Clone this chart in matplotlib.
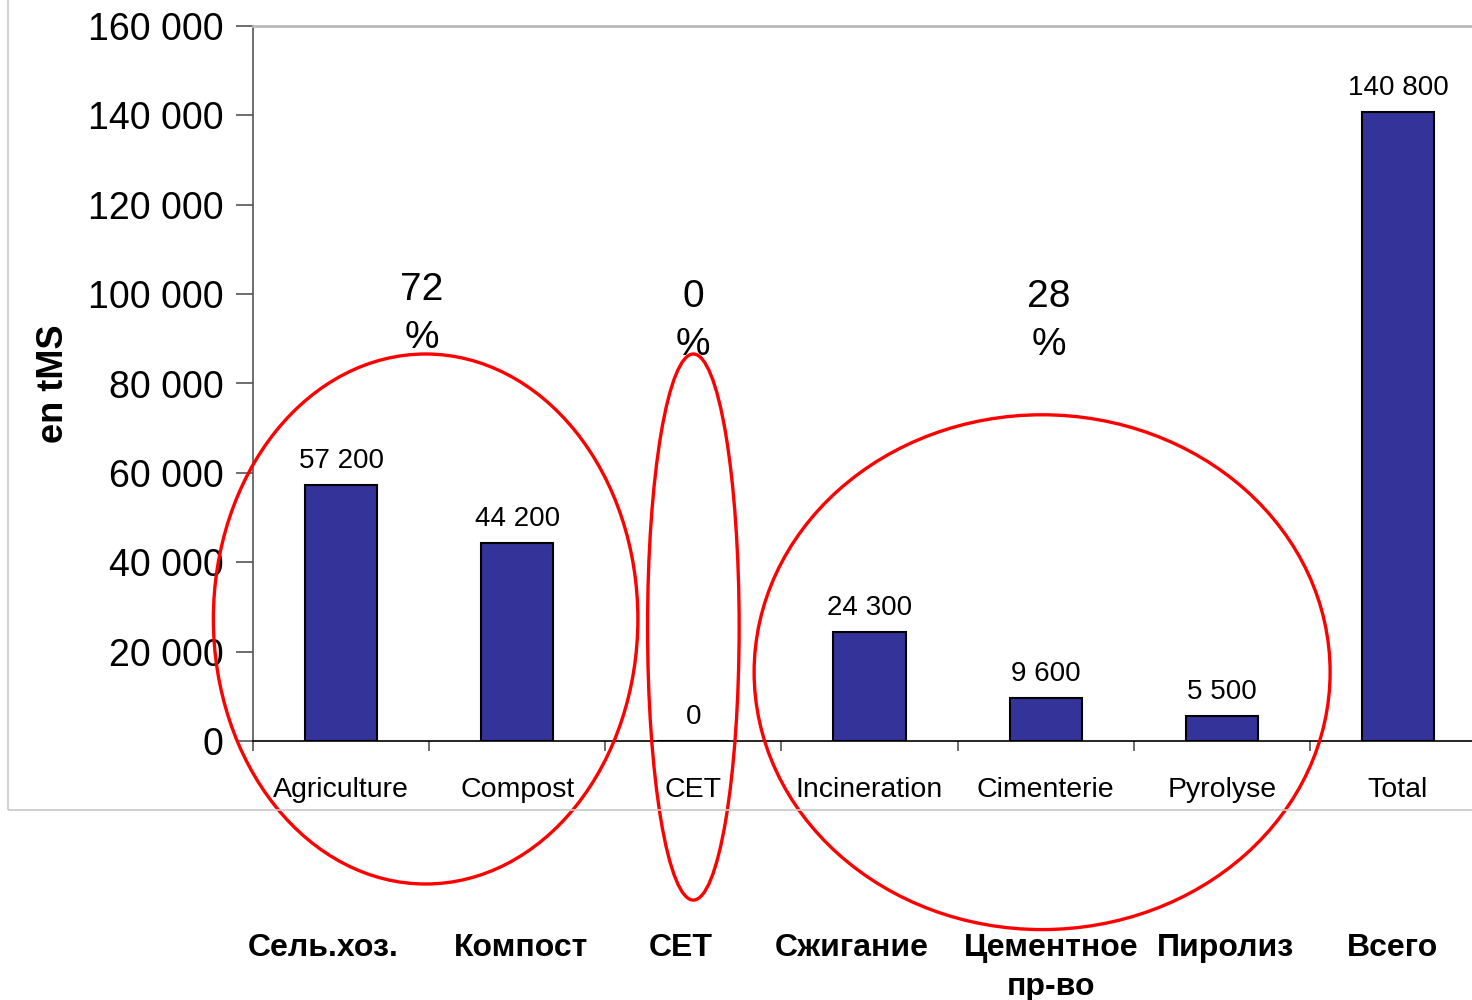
import matplotlib.pyplot as plt
import matplotlib.transforms as mtransforms
from matplotlib.patches import Ellipse, Rectangle
import numpy as np

plt.rcParams['font.family'] = ['Liberation Sans', 'DejaVu Sans']

categories = ['Agriculture', 'Compost', 'CET', 'Incineration',
              'Cimenterie', 'Pyrolyse', 'Total']
labels_ru = ['Сель.хоз.', 'Компост', 'СЕТ', 'Сжигание',
             'Цементное\nпр-во', 'Пиролиз', 'Всего']
tonnes = [57200, 44200, 0, 24300, 9600, 5500, 140800]
shares = ['72\n%', '0\n%', '28\n%']

# small horizontal nudges for the russian captions, in category units
ru_shift = [-0.10, 0.02, -0.07, -0.10, 0.03, 0.02, -0.03]

def fmt(v):
    return f'{v:,}'.replace(',', ' ')

fig = plt.figure(figsize=(14.72, 10), dpi=100)
ax = fig.add_axes([253/1472, 0.259, 1233/1472, 0.715])

# light frame round the chart area
fig.patches.append(Rectangle((8/1472, 0.19), 1.5, 1.0, transform=fig.transFigure,
                             fill=False, ec='#c8c8c8', lw=1.2))

x = np.arange(len(categories))
ax.bar(x, tonnes, width=0.41, color='#333399', edgecolor='black', lw=1.5, zorder=2)
for xi, v in zip(x, tonnes):
    ax.text(xi, v + 2500, fmt(v), ha='center', va='bottom', fontsize=20)

ax.set_xlim(-0.5, 6.5)
ax.set_ylim(0, 160000)
ax.set_yticks(np.arange(0, 160001, 20000))
ax.set_yticklabels([fmt(v) for v in range(0, 160001, 20000)], fontsize=27)
ax.tick_params(axis='y', length=12, width=1.2, color='#555555', pad=9)

ax.set_xticks(x)
ax.set_xticklabels(categories, fontsize=20.5)
ax.tick_params(axis='x', which='major', length=0, pad=26)
ax.set_xticks(np.arange(-0.5, 6.6, 1.0), minor=True)
ax.tick_params(axis='x', which='minor', length=7, width=1.2, color='#555555')

ax.spines['left'].set_color('#555555')
ax.spines['left'].set_linewidth(1.2)
ax.spines['bottom'].set_color('black')
ax.spines['bottom'].set_linewidth(1.2)
ax.spines['top'].set_color('#b8b8b8')
ax.spines['top'].set_linewidth(2)
ax.spines['right'].set_visible(False)

ax.set_ylabel('en tMS', fontsize=26, fontweight='bold')
ax.yaxis.set_label_coords(-0.148, 0.5)

# groups circled in red with their share of the total
groups = [(0.48, 27300, 2.41, 118600), (2.0, 25500, 0.52, 122200),
          (3.98, 15400, 3.27, 115200)]
share_pos = [(0.46, 95500), (2.0, 94000), (4.02, 94000)]
for (cx, cy, w, h), txt, (tx, ty) in zip(groups, shares, share_pos):
    ax.add_patch(Ellipse((cx, cy), w, h, fill=False, ec='#ff0000', lw=2.4,
                         clip_on=False, zorder=5))
    ax.text(tx, ty, txt, ha='center', va='center', fontsize=28, linespacing=1.42)

# russian captions sit in a row below the chart frame
ru_trans = mtransforms.blended_transform_factory(ax.transData, fig.transFigure)
for xi, lab, dx in zip(x, labels_ru, ru_shift):
    ax.text(xi + dx, 0.067, lab, transform=ru_trans, ha='center', va='top',
            fontsize=23, fontweight='bold', linespacing=1.4)

fig.savefig('out.png', dpi=100)
